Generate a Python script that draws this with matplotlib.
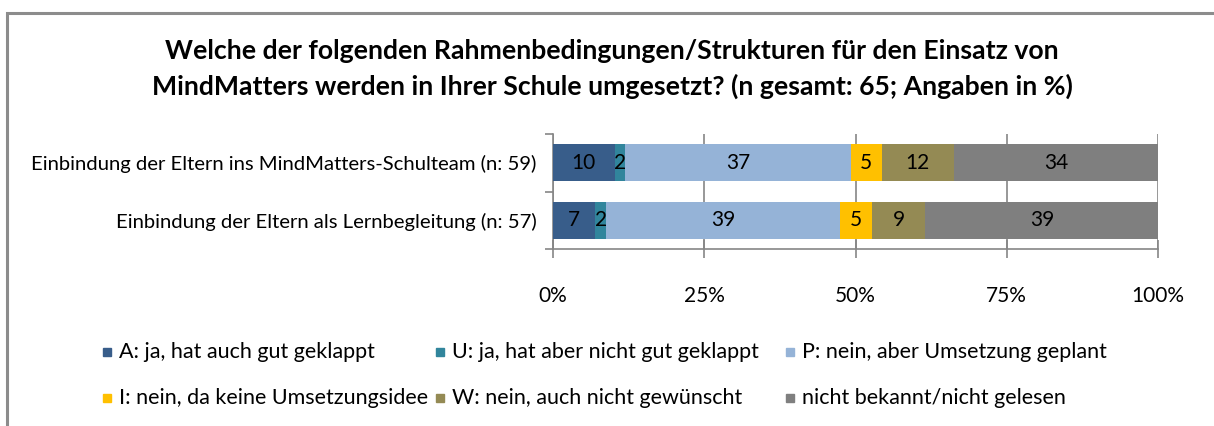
import matplotlib
matplotlib.use("Agg")
import matplotlib.pyplot as plt
from matplotlib.patches import Rectangle
import numpy as np

plt.rcParams['font.family'] = ['Lato', 'DejaVu Sans']

title = ("Welche der folgenden Rahmenbedingungen/Strukturen für den Einsatz von\n"
         "MindMatters werden in Ihrer Schule umgesetzt? (n gesamt: 65; Angaben in %)")
categories = ["Einbindung der Eltern ins MindMatters-Schulteam (n: 59)",
              "Einbindung der Eltern als Lernbegleitung (n: 57)"]
series_names = ["A: ja, hat auch gut geklappt",
                "U: ja, hat aber nicht gut geklappt",
                "P: nein, aber Umsetzung geplant",
                "I: nein, da keine Umsetzungsidee",
                "W: nein, auch nicht gewünscht",
                "nicht bekannt/nicht gelesen"]
# percentages per series: [row 1, row 2]
A = [10.2, 7.0]
U = [1.7, 1.8]
P = [37.3, 38.6]
I = [5.1, 5.3]
W = [11.9, 8.8]
N = [33.9, 38.6]
labels_A = [10, 7]
labels_U = [2, 2]
labels_P = [37, 39]
labels_I = [5, 5]
labels_W = [12, 9]
labels_N = [34, 39]
xticks = [0, 25, 50, 75, 100]
xticklabels = ["0%", "25%", "50%", "75%", "100%"]

colors = ["#385D8A", "#31859C", "#95B3D7", "#FFC000", "#948A54", "#7F7F7F"]

W_PX, H_PX = 1214, 426
fig = plt.figure(figsize=(W_PX / 100, H_PX / 100), dpi=100)

def fx(x):
    return x / W_PX

def fy(y):
    return 1 - y / H_PX

# outer frame (top and left visible)
fig.patches.append(Rectangle((fx(7), fy(440)), fx(1300), fy(13) - fy(440),
                             transform=fig.transFigure, fill=False,
                             edgecolor="#8C8C8C", linewidth=2.2))

ax = fig.add_axes([fx(553), fy(249), fx(1158) - fx(553), fy(134) - fy(249)])

series = [A, U, P, I, W, N]
labels = [labels_A, labels_U, labels_P, labels_I, labels_W, labels_N]
y = np.arange(len(categories))
left = np.zeros(len(categories))
for vals, labs, col, name in zip(series, labels, colors, series_names):
    vals = np.array(vals)
    ax.barh(y, vals, left=left, height=0.65, color=col, label=name,
            zorder=3, edgecolor="none")
    for yi, (l, v, lab) in enumerate(zip(left, vals, labs)):
        ax.text(l + v / 2, yi, str(lab), ha="center", va="center",
                fontsize=15, color="black", zorder=4)
    left = left + vals

ax.set_xlim(0, 100)
ax.set_ylim(1.5, -0.5)
ax.set_xticks(xticks)
ax.set_xticklabels(xticklabels, fontsize=15)
ax.set_yticks([-0.5, 0.5, 1.5], minor=False)
ax.set_yticklabels([])
ax.set_yticks(y, minor=True)
ax.set_yticklabels(categories, minor=True, fontsize=14.6)
ax.tick_params(axis="y", which="minor", length=0, pad=12)
ax.tick_params(axis="y", which="major", length=6, color="#868686", width=1.2)
ax.tick_params(axis="x", direction="inout", length=13, color="#868686",
               width=1.2, pad=20)
ax.grid(axis="x", color="#868686", linewidth=1.2, zorder=0)
for s in ["top", "right"]:
    ax.spines[s].set_visible(False)
for s in ["left", "bottom"]:
    ax.spines[s].set_color("#868686")
    ax.spines[s].set_linewidth(1.2)

fig.text(fx(612), fy(69), title, ha="center", va="center", fontsize=19.2,
         fontweight="bold", linespacing=1.52)

# legend placed manually, two rows
leg_pos = [(103, 352), (436, 352), (786, 352),
           (103, 398), (436, 398), (786, 398)]
for (px, py), col, name in zip(leg_pos, colors, series_names):
    fig.patches.append(Rectangle((fx(px), fy(py + 4)), fx(8), fy(py - 4) - fy(py + 4),
                                 transform=fig.transFigure, color=col))
    fig.text(fx(px + 16), fy(py), name, ha="left", va="center", fontsize=15.5)

fig.savefig("out.png", dpi=100)
